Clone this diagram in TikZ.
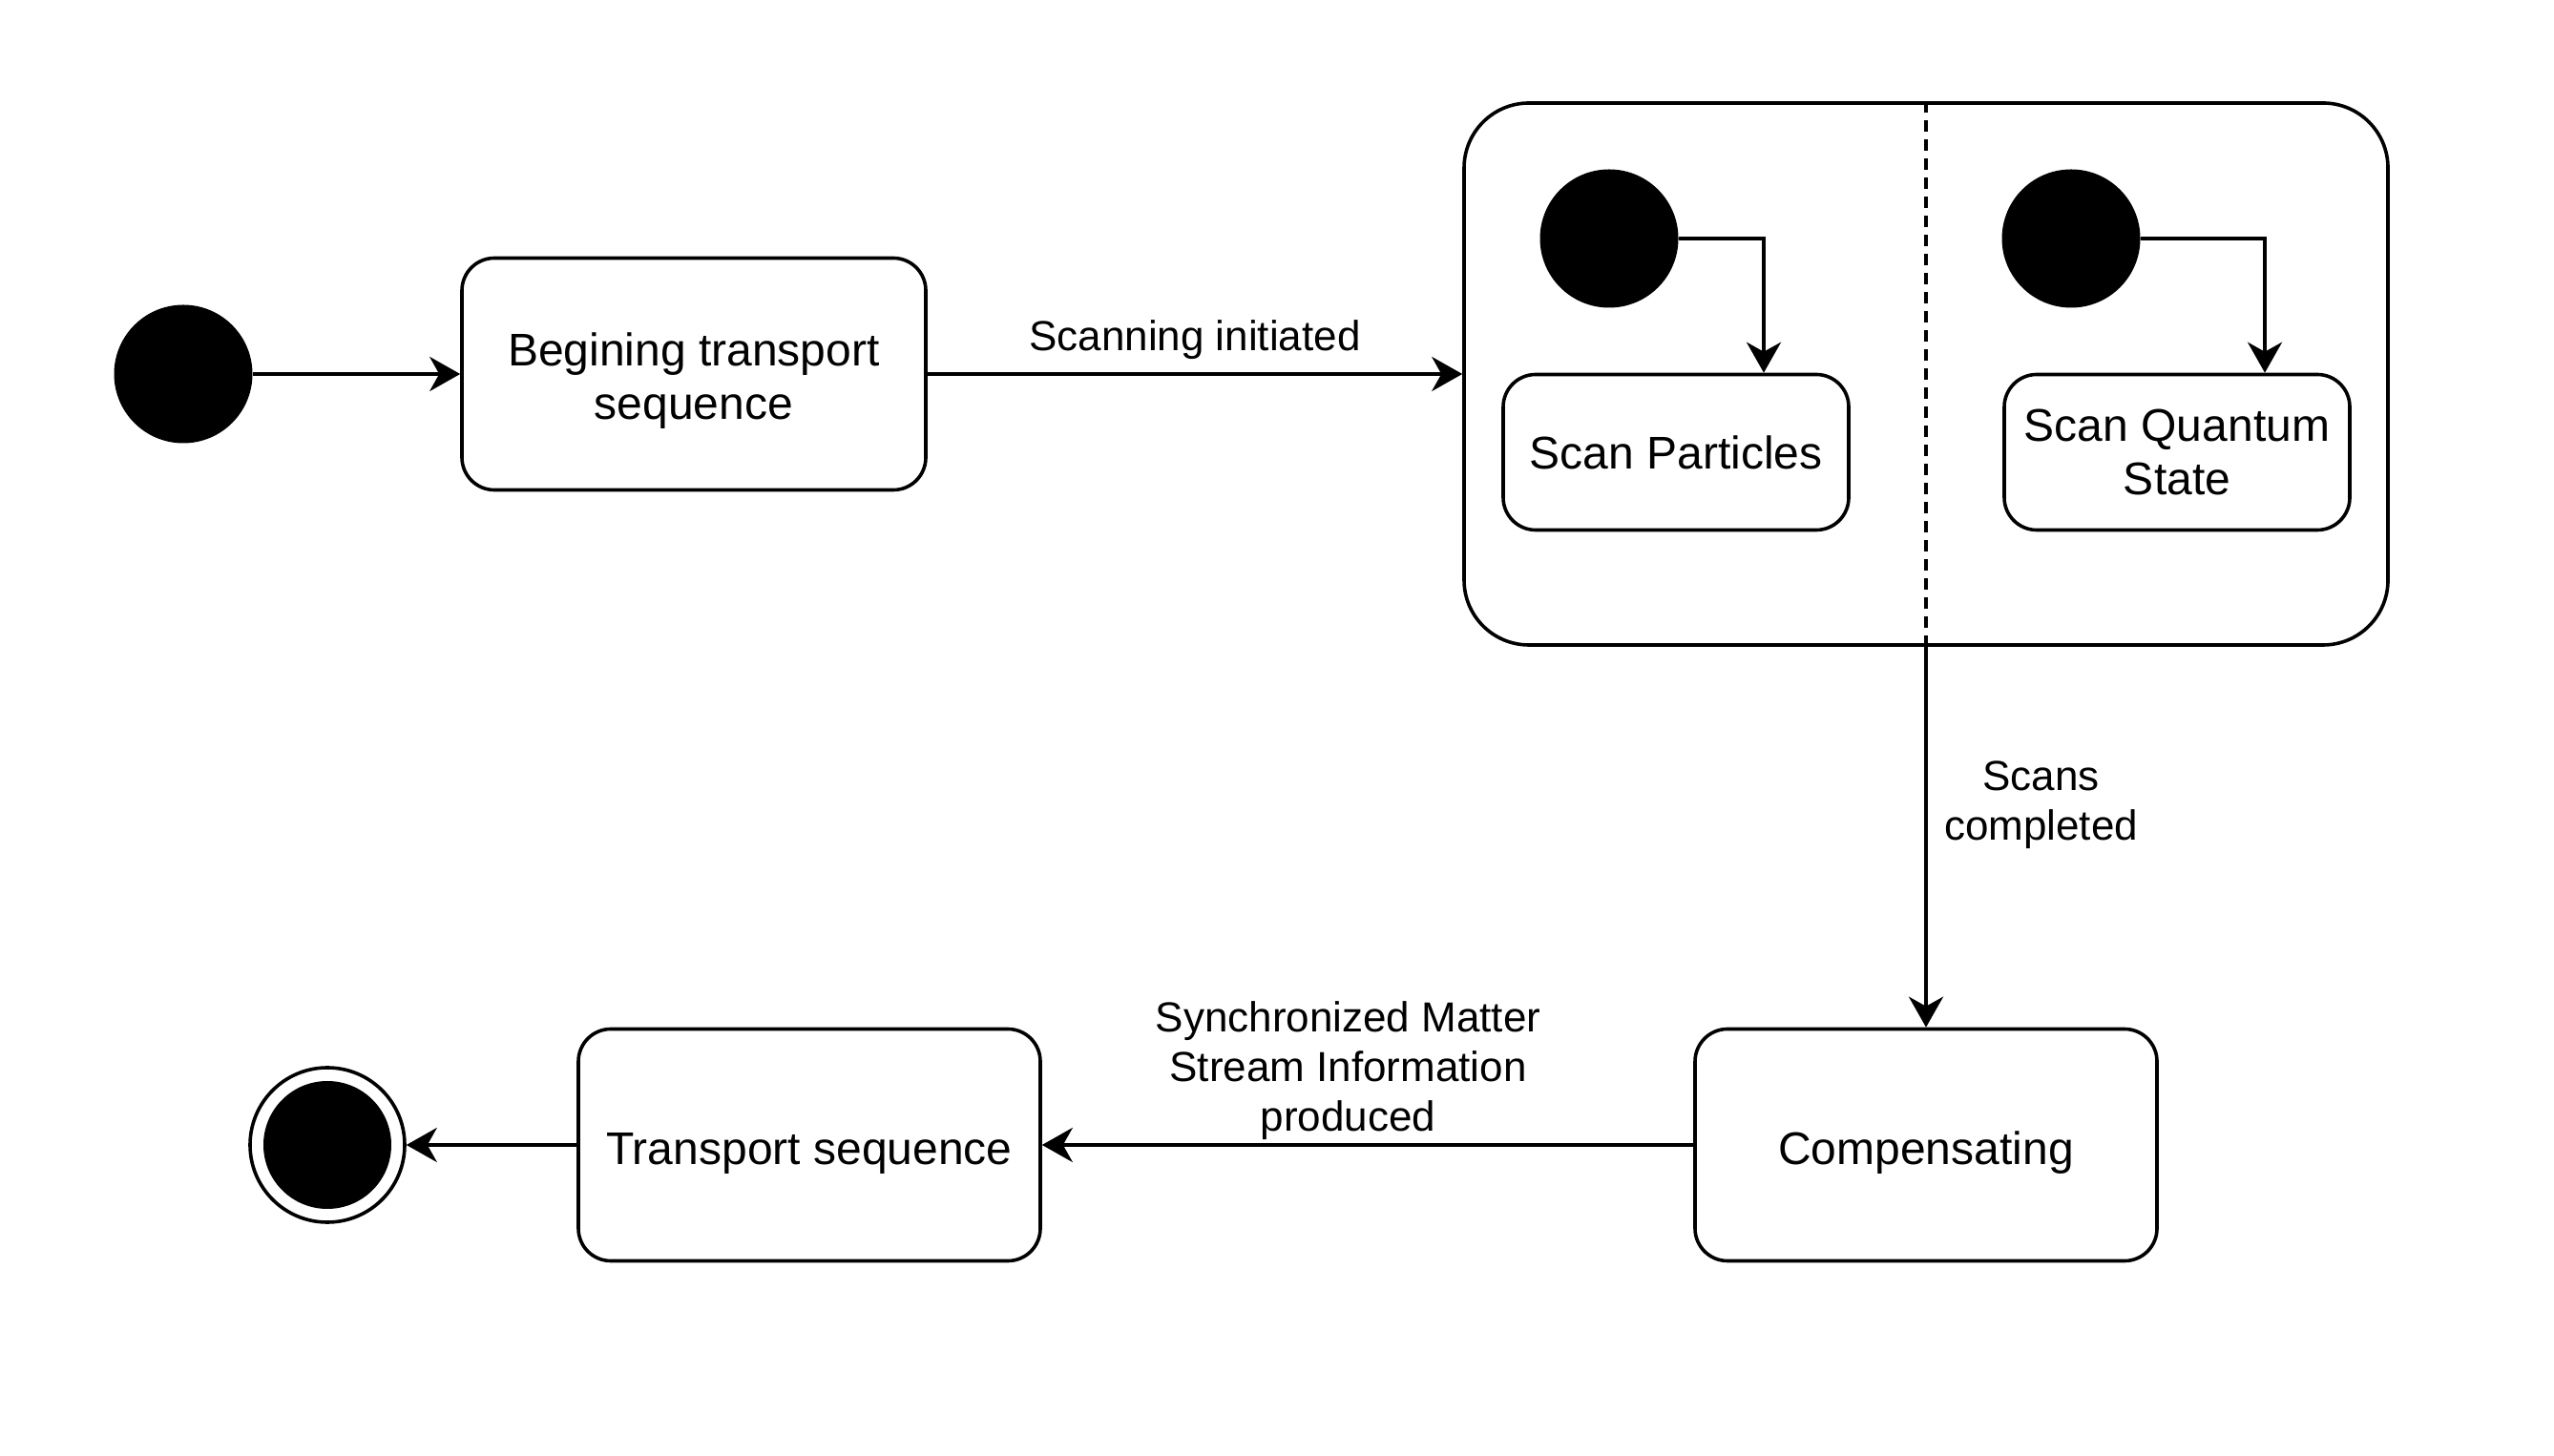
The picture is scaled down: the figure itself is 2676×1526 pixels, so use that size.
\documentclass[tikz,border=0pt]{standalone}
\usepackage{fontspec}
\setmainfont{Liberation Sans}
\usetikzlibrary{arrows.meta}
\tikzset{
  state/.style={draw, rounded corners=8.5pt, line width=0.9pt, align=center, font=\fontsize{12}{14}\selectfont},
  bigstate/.style={state, minimum width=121pt, minimum height=60.75pt, text height=12.6pt},
  initial/.style={circle, fill=black, inner sep=0pt, minimum size=36.25pt},
  trans/.style={line width=0.9pt, -{Stealth[length=8pt,width=9pt,inset=2.5pt]}},
  edgelabel/.style={font=\fontsize{11}{13}\selectfont, align=center},
  divider/.style={line width=0.9pt, dash pattern=on 3pt off 2pt},
}

\begin{document}
\begin{tikzpicture}[x=0.25pt,y=0.25pt,yscale=-1]
\useasboundingbox (0,0) rectangle (2676,1526);

%Initial state
\node[initial] (start) at (192,392) {};
%Shape: Begining transport sequence
\node[bigstate, minimum width=121.5pt, text height=26pt] (begin) at (727,392) {Begining transport\\sequence};
%Shape: Scanning composite state
\node[draw, line width=0.9pt, rounded corners=17pt, minimum width=242pt, minimum height=142pt] (scan) at (2018,392) {};
\draw[divider] (scan.north) -- (scan.south);
%Region 1
\node[initial] (ini1) at (1686,250) {};
\node[state, minimum width=90.5pt, minimum height=40.75pt] (part) at (1756,474) {Scan Particles};
%Region 2
\node[initial] (ini2) at (2170,250) {};
\node[state, minimum width=90.5pt, minimum height=40.75pt] (quant) at (2281,474) {Scan Quantum\\State};
%Shape: Compensating
\node[bigstate] (comp) at (2018,1200) {Compensating};
%Shape: Transport sequence
\node[bigstate] (trans) at (848,1200) {Transport sequence};
%Final state
\node[circle, draw, line width=0.9pt, inner sep=0pt, minimum size=40.5pt] (end) at (343,1200) {};
\node[initial, minimum size=33.5pt] (endin) at (end) {};

%Transitions
\draw[trans] (start) -- (begin);
\draw[trans] (begin) -- node[edgelabel, midway, above] {Scanning initiated} (scan.west);
\draw[trans] (ini1.east) -| ([xshift=23pt]part.north);
\draw[trans] (ini2.east) -| ([xshift=23pt]quant.north);
\draw[trans] (scan.south) -- node[edgelabel, pos=0.415, right=1pt] {Scans\\completed} (comp.north);
\draw[trans] (comp.west) -- node[edgelabel, pos=0.53, above, inner sep=1pt] {Synchronized Matter\\Stream Information\\produced} (trans.east);
\draw[trans] (trans.west) -- (end);

\end{tikzpicture}
\end{document}
